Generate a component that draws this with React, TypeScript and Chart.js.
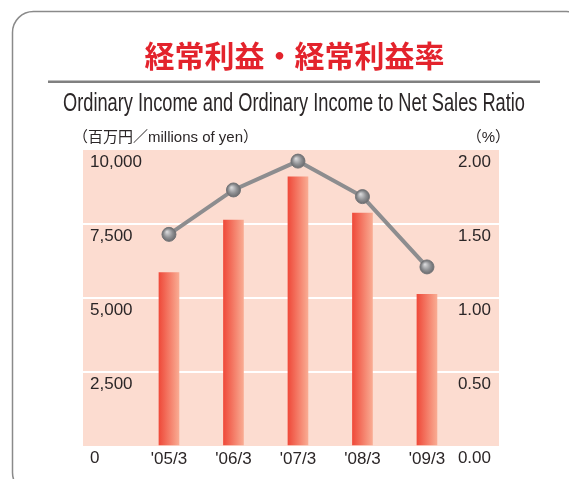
import React, { useEffect, useRef } from "react";
import { Chart, registerables } from "chart.js";

Chart.register(...registerables);

const categories = ["'05/3", "'06/3", "'07/3", "'08/3", "'09/3"];
const ordinaryIncome = [5860, 7630, 9090, 7870, 5120];
const incomeRatio = [1.43, 1.73, 1.925, 1.685, 1.21];
const incomeTicks = [0, 2500, 5000, 7500, 10000];
const ratioTicks = [0, 0.5, 1.0, 1.5, 2.0];

const titleJa = "経常利益・経常利益率";
const titleEn = "Ordinary Income and Ordinary Income to Net Sales Ratio";
const unitLeft = "（百万円／millions of yen）";
const unitRight = "（%）";

const BAR_THICKNESS = 20;
const POINT_RADIUS = 7;
const TEXT_COLOR = "#2b2627";
const AXIS_FONT = { family: "'Liberation Sans', Arial, sans-serif", size: 17 };

const decorPlugin = {
  id: "decor",
  beforeDraw(chart: any) {
    const { ctx, chartArea } = chart;
    ctx.save();
    // frame
    ctx.strokeStyle = "#8a8a8a";
    ctx.lineWidth = 1.5;
    ctx.beginPath();
    (ctx as any).roundRect(12.5, 11.5, 575, 482, 21);
    ctx.stroke();
    // title
    ctx.fillStyle = "#e3232c";
    ctx.font = "bold 30px 'Noto Sans CJK JP', sans-serif";
    ctx.textAlign = "center";
    ctx.textBaseline = "middle";
    ctx.fillText(titleJa, 294.5, 56);
    // rule
    ctx.fillStyle = "#808080";
    ctx.fillRect(48, 80.5, 492, 2.5);
    // subtitle (condensed)
    ctx.fillStyle = TEXT_COLOR;
    ctx.font = "25px 'Liberation Sans Narrow', 'Liberation Sans', sans-serif";
    const w = ctx.measureText(titleEn).width;
    ctx.save();
    ctx.translate(294, 104);
    ctx.scale(462 / w, 1);
    ctx.fillText(titleEn, 0, 0);
    ctx.restore();
    // units
    ctx.font = "15px 'Liberation Sans', 'Noto Sans CJK JP', sans-serif";
    ctx.textAlign = "left";
    ctx.fillText(unitLeft, 73, 138);
    ctx.textAlign = "right";
    ctx.fillText(unitRight, 510, 138);
    // plot background
    ctx.fillStyle = "#fcdcd0";
    ctx.fillRect(chartArea.left, chartArea.top, chartArea.right - chartArea.left, chartArea.bottom - chartArea.top);
    ctx.restore();
  },
};

const zeroWidth = (axis: any) => {
  axis.width = 0;
};

export default function App() {
  const ref = useRef<HTMLCanvasElement | null>(null);

  useEffect(() => {
    if (!ref.current) return;
    const barColor = (c: any) => {
      const chart = c.chart;
      const xs = chart.scales?.x;
      if (c.type !== "data" || !xs || !chart.chartArea) return "#f26b55";
      const cx = xs.getPixelForValue(c.dataIndex);
      const g = chart.ctx.createLinearGradient(cx - BAR_THICKNESS / 2, 0, cx + BAR_THICKNESS / 2, 0);
      g.addColorStop(0, "#ef4a3a");
      g.addColorStop(1, "#f9ab92");
      return g;
    };
    const pointColor = (c: any) => {
      const chart = c.chart;
      const xs = chart.scales?.x;
      const ys = chart.scales?.y1;
      if (c.type !== "data" || !xs || !ys || !chart.chartArea) return "#909090";
      const cx = xs.getPixelForValue(c.dataIndex);
      const cy = ys.getPixelForValue(incomeRatio[c.dataIndex]);
      const g = chart.ctx.createRadialGradient(cx - 2, cy - 2.5, 0.5, cx, cy, POINT_RADIUS);
      g.addColorStop(0, "#d6d6d8");
      g.addColorStop(0.6, "#8e8f92");
      g.addColorStop(1, "#6a6b6e");
      return g;
    };

    const chart = new Chart(ref.current, {
      type: "bar",
      data: {
        datasets: [
          {
            type: "line",
            label: "Ratio",
            data: incomeRatio.map((v, i) => ({ x: i, y: v })),
            yAxisID: "y1",
            xAxisID: "x",
            borderColor: "#8d8d8f",
            borderWidth: 4,
            pointRadius: POINT_RADIUS,
            pointBackgroundColor: pointColor,
            pointBorderColor: "#737477",
            pointBorderWidth: 1,
            order: 0,
          } as any,
          {
            type: "bar",
            label: "Ordinary Income",
            data: ordinaryIncome.map((v, i) => ({ x: i, y: v })),
            yAxisID: "y",
            xAxisID: "x",
            backgroundColor: barColor,
            borderWidth: 0,
            barThickness: BAR_THICKNESS,
            order: 1,
          } as any,
        ],
      },
      options: {
        responsive: false,
        animation: false,
        layout: { padding: { left: 83, right: 70, top: 150, bottom: 6.6 } },
        plugins: { legend: { display: false }, tooltip: { enabled: false }, title: { display: false } },
        scales: {
          x: {
            type: "linear",
            bounds: "data",
            offset: false,
            min: -1.333,
            max: 5.117,
            grid: { display: false, drawTicks: false, offset: false },
            border: { display: false },
            afterBuildTicks: (axis: any) => {
              axis.ticks = categories.map((_, i) => ({ value: i }));
            },
            ticks: {
              padding: 3,
              color: TEXT_COLOR,
              font: AXIS_FONT,
              autoSkip: false,
              maxRotation: 0,
              callback: (v: any) => categories[v] ?? "",
            },
          },
          y: {
            position: "left",
            min: 0,
            max: 10000,
            afterFit: zeroWidth,
            afterBuildTicks: (axis: any) => {
              axis.ticks = incomeTicks.map((v) => ({ value: v }));
            },
            grid: {
              drawTicks: false,
              lineWidth: 2,
              color: (c: any) =>
                c.tick && (c.tick.value === 0 || c.tick.value === 10000) ? "rgba(0,0,0,0)" : "#ffffff",
            },
            border: { display: false },
            ticks: {
              mirror: true,
              padding: 7,
              labelOffset: 12,
              color: TEXT_COLOR,
              font: AXIS_FONT,
              callback: (v: any) => Number(v).toLocaleString("en-US"),
            },
          },
          y1: {
            position: "right",
            min: 0,
            max: 2,
            afterFit: zeroWidth,
            afterBuildTicks: (axis: any) => {
              axis.ticks = ratioTicks.map((v) => ({ value: v }));
            },
            grid: { display: false, drawTicks: false },
            border: { display: false },
            ticks: {
              mirror: true,
              padding: -8,
              labelOffset: 12,
              color: TEXT_COLOR,
              font: AXIS_FONT,
              callback: (v: any) => Number(v).toFixed(2),
            },
          },
        },
      } as any,
      plugins: [decorPlugin],
    });
    return () => chart.destroy();
  }, []);

  return (
    <div
      style={{
        position: "fixed",
        left: 0,
        top: 0,
        width: 569,
        height: 479,
        overflow: "hidden",
        background: "#ffffff",
      }}
    >
      <canvas ref={ref} width={569} height={479} style={{ display: "block" }} />
    </div>
  );
}
